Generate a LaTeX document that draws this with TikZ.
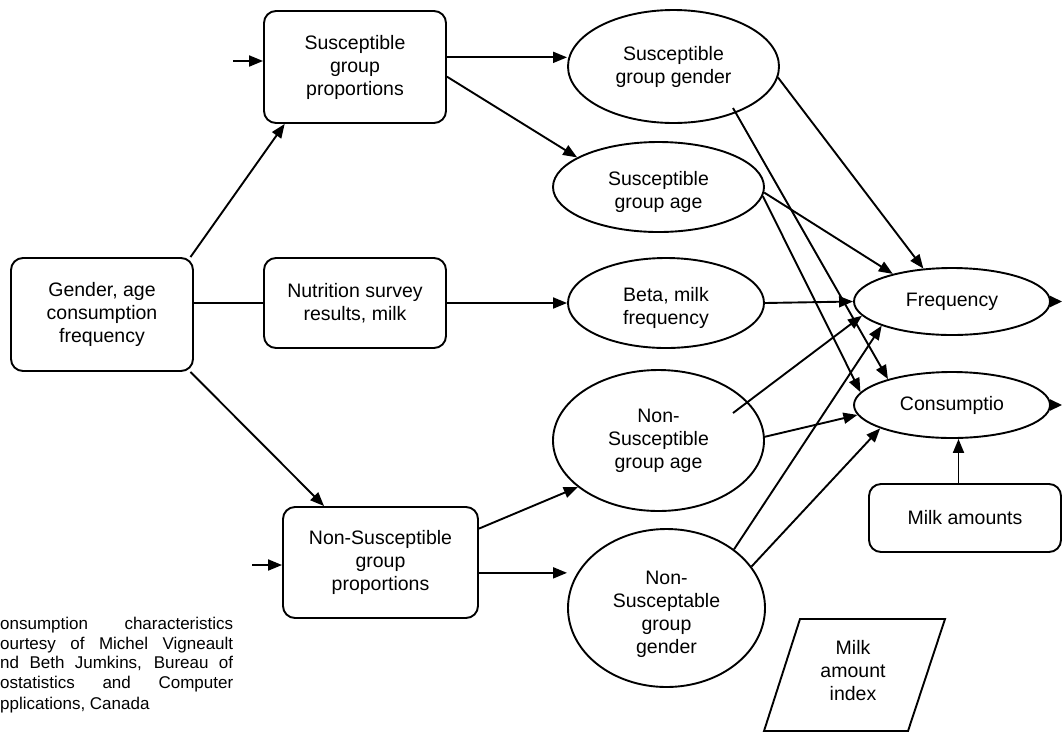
\documentclass[tikz,border=0pt]{standalone}
\usepackage{fontspec}
\setmainfont{Liberation Sans}
\usetikzlibrary{shapes.geometric,arrows.meta,calc}
\newcommand{\lowtext}[2]{\begin{tabular}{@{}c@{}}\\[#1]#2\end{tabular}}
\begin{document}
\begin{tikzpicture}[x=1pt,y=-1pt,
  every node/.style={font=\fontsize{19.5}{23}\selectfont, align=center, inner sep=0pt},
  box/.style={draw, rounded corners=12pt, line width=1.9pt},
  oval/.style={draw, ellipse, line width=1.9pt},
  conn/.style={line width=1.9pt, -{Triangle[length=14pt,width=11pt]}},
  plain/.style={line width=1.9pt},
  captxt/.style={anchor=base west, font=\fontsize{17}{20}\selectfont}
]
\useasboundingbox (0,0) rectangle (1062,732);

% boxes
\node[box, minimum width=182pt, minimum height=113pt] (gen) at (102,314.5) {Gender, age\\consumption\\frequency};
\node[box, minimum width=182pt, minimum height=112pt] (sp) at (355,67) {Susceptible\\group\\proportions};
\node[box, minimum width=182pt, minimum height=90pt] (nut) at (355,303) {Nutrition survey\\results, milk};
\node[box, minimum width=195pt, minimum height=111pt] (nsp) at (380.5,562.5) {Non-Susceptible\\group\\proportions};
\node[box, minimum width=192pt, minimum height=68pt] (ma) at (965,518) {Milk amounts};

% ellipses
\node[oval, minimum width=211pt, minimum height=113pt] (sgg) at (673.5,66.5) {Susceptible\\group gender};
\node[oval, minimum width=211pt, minimum height=90pt] (sga) at (658.5,187) {\lowtext{-13pt}{Susceptible\\group age}};
\node[oval, minimum width=196pt, minimum height=90pt] (beta) at (666,303) {\lowtext{-13pt}{Beta, milk\\frequency}};
\node[oval, minimum width=196pt, minimum height=67pt] (freq) at (952,301.5) {Frequency};
\node[oval, minimum width=196pt, minimum height=66pt] (cons) at (952,405) {Consumptio};
\node[oval, minimum width=211pt, minimum height=141pt] (nsa) at (658.5,440.5) {Non-\\Susceptible\\group age};
\node[oval, minimum width=197pt, minimum height=158pt] (nsg) at (666.5,608) {\lowtext{-11pt}{Non-\\Susceptable\\group\\gender}};

% parallelogram
\draw[plain] (800,619) -- (945,619) -- (908,731) -- (764,731) -- cycle;
\node (mai) at (853,671) {Milk\\amount\\index};

% caption
\node[captxt] (c1) at (0,629.5) {\makebox[233pt][s]{onsumption characteristics}};
\node[captxt] (c2) at (0,649) {\makebox[233pt][s]{ourtesy of Michel Vigneault}};
\node[captxt] (c3) at (0,668.5) {\makebox[233pt][s]{nd Beth Jumkins, Bureau of}};
\node[captxt] (c4) at (0,688.5) {\makebox[233pt][s]{ostatistics and Computer}};
\node[captxt] (c5) at (0,709) {pplications, Canada};

% connectors
\coordinate (inA) at (233,61);
\coordinate (inB) at (252,565);
\draw[conn] (inA) -- (inA -| sp.west);
\draw[conn] (inB) -- (inB -| nsp.west);
\draw[conn] (gen.33.3) -- (sp.219);
\draw[conn] (gen.-33.3) -- (nsp.135);
\draw[plain] (gen.east |- nut.west) -- (nut.west);
\draw[conn] (nut.east) -- (beta.west);
\draw[conn] (sp.6.9) -- (sp.6.9 -| sgg.west);
\draw[conn] (sp.-6.9) -- (sga.160);
\draw[conn] (nsp.19.5) -- (nsa.210);
\draw[conn] (nsp.-6.7) -- (nsp.-6.7 -| nsg.west);

\draw[conn] (sgg.-6) -- (freq.131);
\coordinate (sggIn) at ($(sgg.center)+(59.5,41.5)$);
\draw[conn] (sggIn) -- (cons.158);
\draw[conn] (sga.-3) -- (freq.155);
\draw[conn] (sga.-5) -- (cons.172);
\draw[conn] (beta.east) -- (freq.west);
\coordinate (nsaIn) at ($(nsa.center)+(74.5,-27.5)$);
\draw[conn] (nsaIn) -- (freq.189);
\draw[conn] (nsa.2) -- (cons.186);
\draw[conn] (nsg.41) -- (freq.199);
\draw[conn] (nsg.26) -- (cons.198);

\coordinate (outF) at (1062,301.5);
\coordinate (outC) at (1062,405);
\draw[line width=1.9pt, -{Triangle[length=12pt,width=11pt]}] (freq.east) -- (outF);
\draw[line width=1.9pt, -{Triangle[length=12pt,width=11pt]}] (cons.east) -- (outC);
\coordinate (maTop) at ($(ma.north)+(-6.5,0)$);
\draw[conn] (maTop) -- (maTop |- cons.south);
\end{tikzpicture}
\end{document}
